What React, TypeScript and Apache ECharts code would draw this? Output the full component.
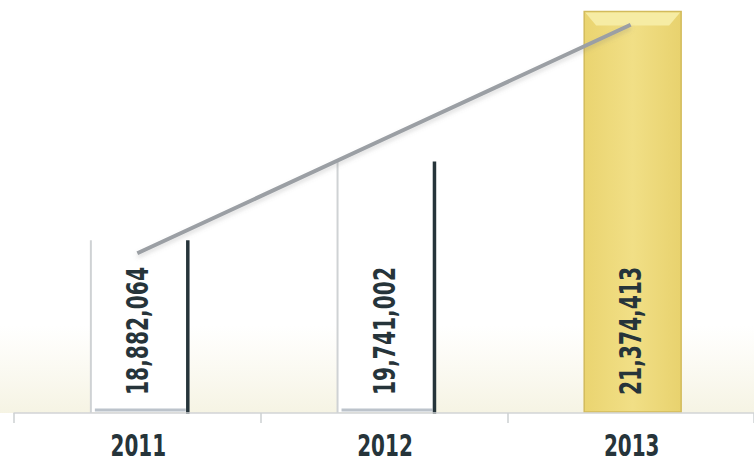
import React, { useEffect, useRef } from "react";
import * as echarts from "echarts";

const years = ["2011", "2012", "2013"];
const totals = [18882064, 19741002, 21374413];
const trend = [18740000, 19985000, 21230000];
const highlighted = [false, false, true];
const yMin = 17000000;
const yMax = 21500000;

const FONT = "'DejaVu Sans Condensed', 'Liberation Sans', sans-serif";
const DARK = "#26343a";

export default function App() {
  const ref = useRef<HTMLDivElement>(null);
  useEffect(() => {
    if (!ref.current) return;
    document.body.style.margin = "0";
    const chart = echarts.init(ref.current, undefined, { renderer: "svg" });
    const option: any = {
      animation: false,
      backgroundColor: "#ffffff",
      grid: { left: 14, width: 748, top: -1, height: 414 },
      graphic: [
        {
          type: "rect",
          z: -10,
          silent: true,
          shape: { x: 0, y: 325, width: 754, height: 88 },
          style: {
            fill: new echarts.graphic.LinearGradient(0, 0, 0, 1, [
              { offset: 0, color: "rgba(240,236,205,0)" },
              { offset: 1, color: "rgba(236,232,200,0.5)" },
            ]),
          },
        },
      ],
      xAxis: {
        type: "category",
        data: years,
        axisLine: { lineStyle: { color: "#d2d4d6", width: 1.5 } },
        axisTick: { show: true, length: 10, lineStyle: { color: "#cdd0d2", width: 1.5 } },
        axisLabel: { show: false },
        z: 5,
      },
      yAxis: { type: "value", min: yMin, max: yMax, show: false, splitLine: { show: false } },
      series: [
        {
          type: "custom",
          z: 2,
          clip: false,
          data: totals.map((v, i) => [i, v]),
          renderItem: (params: any, api: any) => {
            const idx = api.value(0);
            const val = api.value(1);
            const top = api.coord([idx, val]);
            const base = api.coord([idx, yMin]);
            const w = api.size([1, 0])[0] * 0.393;
            const cx = top[0] + 2;
            const l = cx - w / 2;
            const r = cx + w / 2;
            const t = top[1];
            const b = base[1] - 1;
            const label = {
              type: "text",
              x: cx - 2,
              y: b - 17,
              rotation: Math.PI / 2,
              scaleX: 0.75,
              z2: 20,
              style: {
                text: Number(val).toLocaleString("en-US"),
                align: "left",
                verticalAlign: "middle",
                fontFamily: FONT,
                fontWeight: "bold",
                fontSize: 30,
                fill: DARK,
              },
            };
            const yearLabel = {
              type: "text",
              x: top[0] + 1,
              y: base[1] + 33,
              scaleX: 0.74,
              z2: 20,
              style: {
                text: years[params.dataIndex],
                align: "center",
                verticalAlign: "middle",
                fontFamily: FONT,
                fontWeight: "bold",
                fontSize: 30,
                fill: DARK,
              },
            };
            if (highlighted[params.dataIndex]) {
              return {
                type: "group",
                children: [
                  {
                    type: "rect",
                    shape: { x: l, y: t, width: w, height: b - t },
                    style: {
                      fill: new echarts.graphic.LinearGradient(0, 0, 1, 0, [
                        { offset: 0, color: "#ead470" },
                        { offset: 0.5, color: "#f1df86" },
                        { offset: 1, color: "#e8d26e" },
                      ]),
                      stroke: "#d2bb5c",
                      lineWidth: 1.5,
                    },
                  },
                  {
                    type: "polygon",
                    shape: {
                      points: [
                        [l + 1, t + 1],
                        [r - 1, t + 1],
                        [r - 12, t + 14],
                        [l + 12, t + 14],
                      ],
                    },
                    style: { fill: "#f6eca4" },
                  },
                  label,
                  yearLabel,
                ],
              };
            }
            return {
              type: "group",
              children: [
                {
                  type: "rect",
                  shape: { x: l, y: t, width: w, height: b - t },
                  style: { fill: "#ffffff" },
                },
                {
                  type: "line",
                  shape: { x1: l, y1: t, x2: l, y2: b + 1 },
                  style: { stroke: "#cfd2d4", lineWidth: 2 },
                },
                {
                  type: "line",
                  shape: { x1: l + 4, y1: b - 2, x2: r - 2, y2: b - 2 },
                  style: { stroke: "#bcc3cb", lineWidth: 3 },
                },
                {
                  type: "line",
                  shape: { x1: r, y1: t, x2: r, y2: b + 2 },
                  style: { stroke: DARK, lineWidth: 3.5 },
                },
                label,
                yearLabel,
              ],
            };
          },
        },
        {
          type: "line",
          z: 10,
          data: trend,
          symbol: "none",
          lineStyle: {
            color: "#9b9fa4",
            width: 4,
            shadowColor: "rgba(120,120,120,0.25)",
            shadowBlur: 4,
            shadowOffsetY: 3,
          },
        },
      ],
    };
    chart.setOption(option);
    return () => chart.dispose();
  }, []);
  return <div ref={ref} style={{ width: 754, height: 470 }} />;
}
